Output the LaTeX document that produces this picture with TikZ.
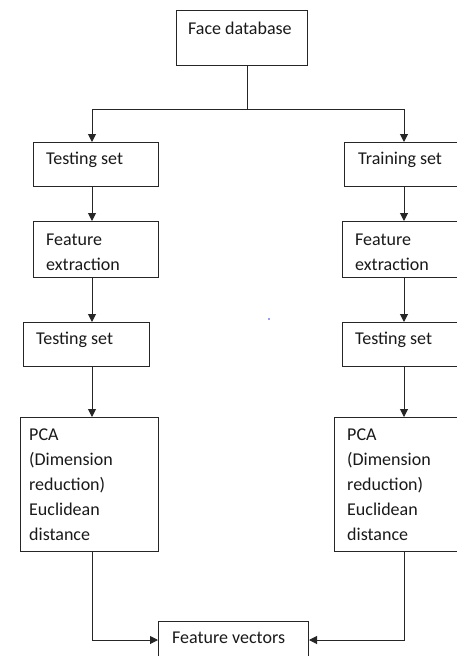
\documentclass[tikz,border=0pt]{standalone}
\usepackage{fontspec}
\setmainfont{Carlito}
\usetikzlibrary{arrows.meta,calc}
\tikzset{
  boxshape/.style={draw=black!85, line width=1pt, rectangle, inner sep=0pt, anchor=north west},
  lbl/.style={anchor=base west, inner sep=0pt, text=black!90, font=\fontsize{18}{25}\selectfont},
  conn/.style={draw=black!85, line width=1pt},
  arr/.style={conn, -{Triangle[length=8pt,width=8pt]}},
}
\newcommand{\mybox}[5]{% name, x1, y1, x2, y2
  \node[boxshape, minimum width={(#4-#2)*1pt}, minimum height={(#5-#3)*1pt}] (#1) at (#2,#3) {};}
\begin{document}
\begin{tikzpicture}[x=1pt,y=-1pt]
\useasboundingbox (0,0) rectangle (457,656);
\clip (0,0) rectangle (457,656);
\fill[white] (0,0) rectangle (457,656);
% boxes
\mybox{fdb}{176}{10}{307}{65}
\mybox{tsA}{33}{142}{158}{186}
\mybox{trB}{344}{142}{470}{186}
\mybox{feA}{33}{221}{158}{277}
\mybox{feB}{342}{221}{470}{277}
\mybox{tsC}{23}{322}{149}{366}
\mybox{tsD}{342}{322}{470}{366}
\mybox{pcaA}{20}{417}{158}{551}
\mybox{pcaB}{334}{417}{470}{551}
\mybox{fv}{158}{621}{308}{680}
% labels
\node[lbl] (tfdb) at ($(fdb.north west)+(12,24)$) {Face database};
\node[lbl] (ttsA) at ($(tsA.north west)+(13,22)$) {Testing set};
\node[lbl] (ttrB) at ($(trB.north west)+(14,22)$) {Training set};
\node[lbl] (tfeA) at ($(feA.north west)+(13,24)$) {\parbox[t]{120pt}{\raggedright Feature\\extraction}};
\node[lbl] (tfeB) at ($(feB.north west)+(13,24)$) {\parbox[t]{120pt}{\raggedright Feature\\extraction}};
\node[lbl] (ttsC) at ($(tsC.north west)+(13,22)$) {Testing set};
\node[lbl] (ttsD) at ($(tsD.north west)+(13,22)$) {Testing set};
\node[lbl] (tpcaA) at ($(pcaA.north west)+(9,23)$) {\parbox[t]{140pt}{\raggedright PCA\\(Dimension\\reduction)\\Euclidean\\distance}};
\node[lbl] (tpcaB) at ($(pcaB.north west)+(13,23)$) {\parbox[t]{140pt}{\raggedright PCA\\(Dimension\\reduction)\\Euclidean\\distance}};
\node[lbl] (tfv) at ($(fv.north west)+(14,22)$) {Feature vectors};
% connectors
\coordinate (split) at (247,109);
\draw[conn] (fdb.south -| split) -- (split);
\draw[arr] (split) -| (tsA.north -| 92,0);
\draw[arr] (split) -| (trB.north -| 404,0);
\draw[arr] (tsA.south -| 92,0) -- (feA.north -| 92,0);
\draw[arr] (trB.south -| 404,0) -- (feB.north -| 404,0);
\draw[arr] (feA.south -| 92,0) -- (tsC.north -| 92,0);
\draw[arr] (feB.south -| 404,0) -- (tsD.north -| 404,0);
\draw[arr] (tsC.south -| 92,0) -- (pcaA.north -| 92,0);
\draw[arr] (tsD.south -| 404,0) -- (pcaB.north -| 404,0);
\draw[arr] (pcaA.south -| 92,0) |- (fv.west |- 0,640);
\draw[arr] (pcaB.south -| 404,0) |- (fv.east |- 0,640);
% stray dot
\fill[blue!80] (269,319) circle (0.9);
\end{tikzpicture}
\end{document}
